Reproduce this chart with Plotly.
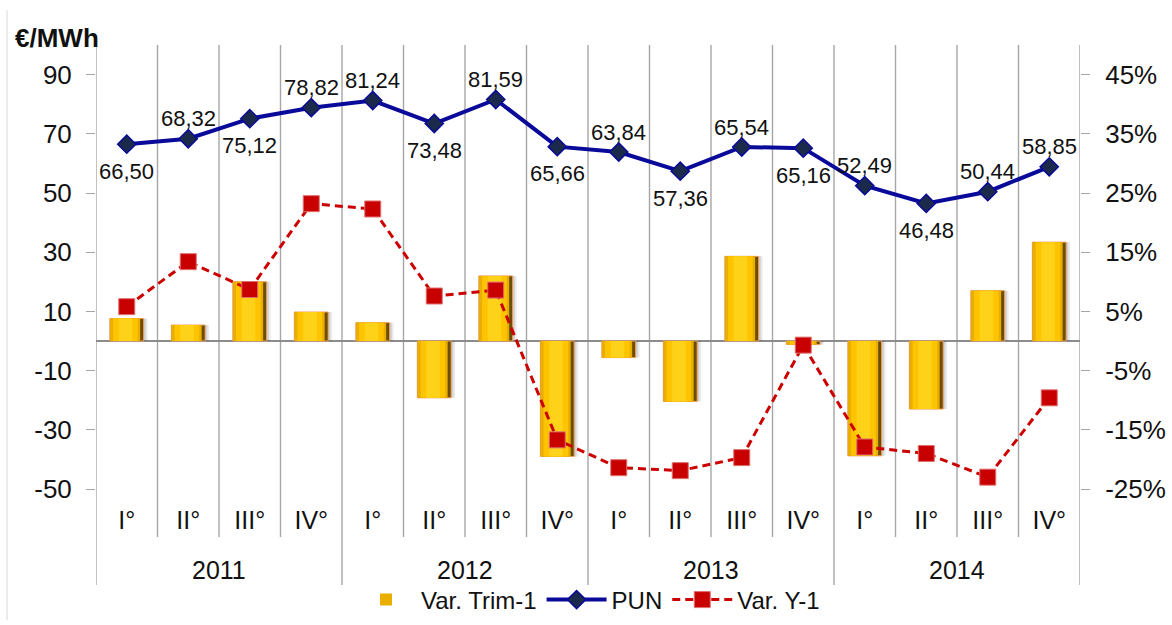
import plotly.graph_objects as go

# Quarterly data 2011-2014
years = ["2011", "2012", "2013", "2014"]
quarters = ["I°", "II°", "III°", "IV°"]

# PUN average price, €/MWh
pun = [66.50, 68.32, 75.12, 78.82, 81.24, 73.48, 81.59, 65.66,
       63.84, 57.36, 65.54, 65.16, 52.49, 46.48, 50.44, 58.85]
# change vs previous quarter, %
var_trim = [3.8, 2.7, 10.0, 4.9, 3.1, -9.6, 11.0, -19.5,
            -2.8, -10.2, 14.3, -0.6, -19.4, -11.5, 8.5, 16.7]
# change vs same quarter of previous year, %
var_y = [5.8, 13.4, 8.7, 23.2, 22.3, 7.6, 8.6, -16.7,
         -21.4, -21.9, -19.7, -0.7, -17.9, -19.0, -23.0, -9.6]
# data-label side for each PUN point
label_side = ["below", "above", "below", "above", "above", "below", "above", "below",
              "above", "below", "above", "below", "above", "below", "above", "above"]

left_ticks = [-50, -30, -10, 10, 30, 50, 70, 90]
right_ticks = [-25, -15, -5, 5, 15, 25, 35, 45]

FONT = "Liberation Sans, Arial, sans-serif"
GRID = "#a6a6a6"
TXT = "#111111"

n = len(pun)
xs = list(range(n))
cat_labels = [q for _ in years for q in quarters]

fig = go.Figure()

# bevelled gold bars built from stacked layers
bar_layers = [
    # (colour, width, offset, legend)
    ("rgba(0,0,0,0.08)", 0.57, -0.23, False),
    ("rgba(0,0,0,0.10)", 0.56, -0.25, False),
    ("#6b4e00", 0.55, -0.275, False),
    ("#e9ae00", 0.49, -0.272, True),
    ("#ffc400", 0.40, -0.222, False),
    ("#ffd21a", 0.22, -0.13, False),
]
for col, w, off, leg in bar_layers:
    fig.add_trace(go.Bar(
        x=xs, y=var_trim, yaxis="y2", name="Var. Trim-1",
        width=[w] * n, offset=[off] * n,
        marker=dict(color=col,
                    line=dict(color="#f0a060" if col == "#6b4e00" else "rgba(0,0,0,0)",
                              width=1)),
        showlegend=leg, legendrank=1, hoverinfo="skip",
    ))

fig.add_trace(go.Scatter(
    x=xs, y=pun, yaxis="y", name="PUN", mode="lines+markers",
    line=dict(color="#0a0a9a", width=4),
    marker=dict(symbol="diamond", size=14, color="#1b2a4a",
                line=dict(color="#0a0a9a", width=1.5)),
    legendrank=2,
))

fig.add_trace(go.Scatter(
    x=xs, y=var_y, yaxis="y2", name="Var. Y-1", mode="lines+markers",
    line=dict(color="#cc0000", width=3, dash="8px,5px"),
    marker=dict(symbol="square", size=16, color="#c80000",
                line=dict(color="#e07070", width=1)),
    legendrank=3,
))

annotations = []
for i, (v, side) in enumerate(zip(pun, label_side)):
    annotations.append(dict(
        x=i, y=v, xref="x", yref="y",
        text=f"{v:.2f}".replace(".", ","),
        showarrow=False, yanchor="middle",
        yshift=20 if side == "above" else -27,
        font=dict(family=FONT, size=22, color=TXT),
    ))

# year labels under the quarter labels
for k, yr in enumerate(years):
    annotations.append(dict(
        x=4 * k + 1.5, y=(489 - 570) / 444, xref="x", yref="paper",
        text=yr, showarrow=False, yanchor="middle",
        font=dict(family=FONT, size=25, color=TXT),
    ))

annotations.append(dict(
    x=(13 - 96) / 984, y=(489 - 38) / 444, xref="paper", yref="paper",
    text="<b>€/MWh</b>", showarrow=False, xanchor="left", yanchor="middle",
    font=dict(family=FONT, size=26, color=TXT),
))

shapes = []
for b in [i - 0.5 for i in range(n + 1)]:
    is_year = (b + 0.5) % 4 == 0
    shapes.append(dict(
        type="line", xref="x", yref="paper", x0=b, x1=b,
        y0=1, y1=(489 - (585 if is_year else 537)) / 444,
        line=dict(color=GRID, width=1.4), layer="below",
    ))
# faint frame edge on the left
shapes.append(dict(
    type="line", xref="paper", yref="paper",
    x0=(7 - 96) / 984, x1=(7 - 96) / 984,
    y0=(489 - 10) / 444, y1=(489 - 620) / 444,
    line=dict(color="#d9d9d9", width=1), layer="below",
))

fig.update_layout(
    width=1172, height=625,
    margin=dict(l=96, r=92, t=45, b=136, autoexpand=False),
    paper_bgcolor="white", plot_bgcolor="white",
    barmode="overlay",
    font=dict(family=FONT, size=25, color=TXT),
    xaxis=dict(
        range=[-0.5, n - 0.5], tickmode="array", tickvals=xs, ticktext=cat_labels,
        showgrid=False, zeroline=False, showline=False, ticks="",
        ticklabelstandoff=14, automargin=False,
        tickfont=dict(family=FONT, size=25, color=TXT),
    ),
    yaxis=dict(
        range=[-50, 100], tickmode="array", tickvals=left_ticks,
        ticktext=[str(v) for v in left_ticks],
        showgrid=False, showline=False, automargin=False,
        zeroline=True, zerolinecolor="#8c8c8c", zerolinewidth=1.5,
        ticks="outside", ticklen=9, tickcolor=GRID, tickwidth=1.4,
        ticklabelstandoff=9,
        tickfont=dict(family=FONT, size=26, color=TXT),
    ),
    yaxis2=dict(
        range=[-25, 50], tickmode="array", tickvals=right_ticks,
        ticktext=[f"{v}%" for v in right_ticks],
        overlaying="y", side="right", automargin=False,
        showgrid=False, showline=False, zeroline=False,
        ticks="outside", ticklen=9, tickcolor=GRID, tickwidth=1.4,
        ticklabelstandoff=10,
        tickfont=dict(family=FONT, size=26, color=TXT),
    ),
    legend=dict(
        orientation="h", x=0.5, xanchor="center",
        yref="container", y=(625 - 600) / 625, yanchor="middle",
        font=dict(family=FONT, size=24, color=TXT),
        itemwidth=60, traceorder="normal", bgcolor="rgba(0,0,0,0)",
    ),
    annotations=annotations,
    shapes=shapes,
    showlegend=True,
)

fig.write_html("out.html")
